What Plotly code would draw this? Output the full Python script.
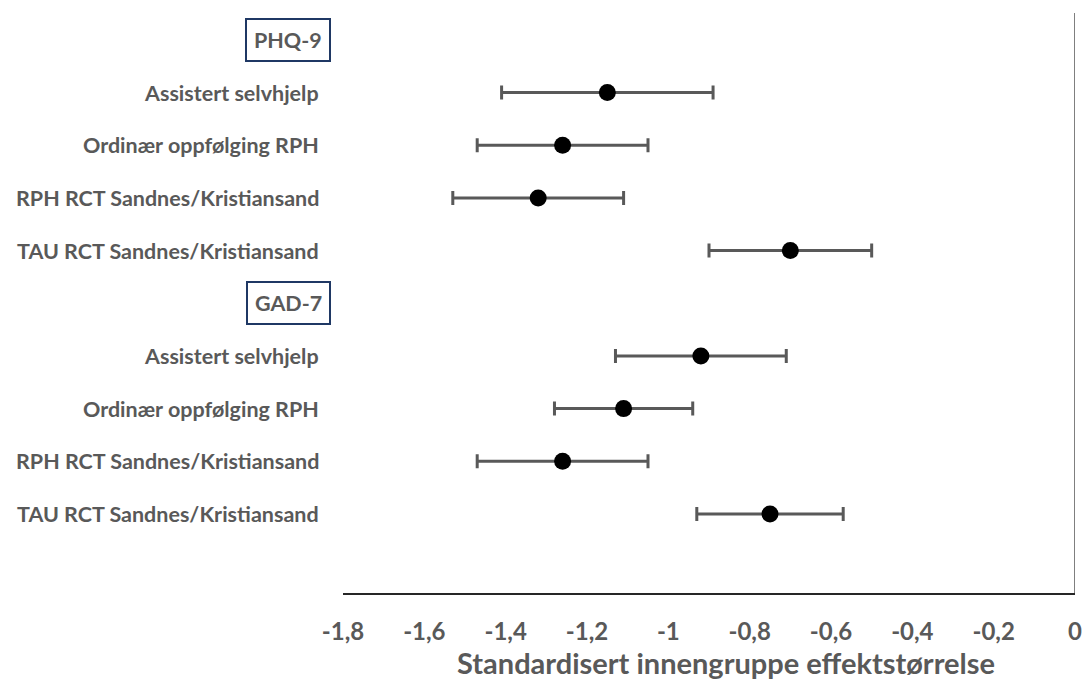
import plotly.graph_objects as go

# Data
groups = ["PHQ-9", "GAD-7"]
conditions = ["Assistert selvhjelp", "Ordinær oppfølging RPH",
              "RPH RCT Sandnes/Kristiansand", "TAU RCT Sandnes/Kristiansand"]
phq_est = [-1.15, -1.26, -1.32, -0.70]
phq_low = [-1.41, -1.47, -1.53, -0.90]
phq_high = [-0.89, -1.05, -1.11, -0.50]
gad_est = [-0.92, -1.11, -1.26, -0.75]
gad_low = [-1.13, -1.28, -1.47, -0.93]
gad_high = [-0.71, -0.94, -1.05, -0.57]
x_ticks = [-1.8, -1.6, -1.4, -1.2, -1.0, -0.8, -0.6, -0.4, -0.2, 0]
x_tick_labels = ["-1,8", "-1,6", "-1,4", "-1,2", "-1", "-0,8", "-0,6", "-0,4", "-0,2", "0"]
x_title = "Standardisert innengruppe effektstørrelse"

# rows: top header = 10, then down to 1
ests, lows, highs, ys, labels = [], [], [], [], []
headers = []
row = 10
for g, e, lo, hi in [("PHQ-9", phq_est, phq_low, phq_high), ("GAD-7", gad_est, gad_low, gad_high)]:
    headers.append((g, row))
    row -= 1
    for c, ee, l, h in zip(conditions, e, lo, hi):
        ests.append(ee); lows.append(l); highs.append(h); ys.append(row); labels.append(c)
        row -= 1

grey = "#595959"
font_fam = "Lato, 'Open Sans', sans-serif"

fig = go.Figure()
fig.add_trace(go.Scatter(
    x=ests, y=ys, mode="markers",
    marker=dict(color="black", size=17),
    error_x=dict(type="data", symmetric=False,
                 array=[h - e for h, e in zip(highs, ests)],
                 arrayminus=[e - l for e, l in zip(ests, lows)],
                 color=grey, thickness=3, width=7),
    showlegend=False, hoverinfo="x"
))

annotations = []
for lab, y in zip(labels, ys):
    annotations.append(dict(x=0, xref="paper", y=y, yref="y", text=lab,
                            xanchor="right", yanchor="middle", xshift=-22,
                            showarrow=False,
                            font=dict(family=font_fam, size=21.5, color=grey, weight="bold")))
for g, y in headers:
    annotations.append(dict(x=0, xref="paper", y=y, yref="y", text=g,
                            xanchor="right", yanchor="middle", xshift=-12,
                            showarrow=False, bordercolor="#1F3864", borderwidth=2,
                            borderpad=7, bgcolor="white",
                            font=dict(family=font_fam, size=21.5, color=grey, weight="bold")))
annotations.append(dict(x=0.5, xref="paper", y=0, yref="paper", text=x_title,
                        xanchor="center", yanchor="middle", xshift=17, yshift=-69,
                        showarrow=False,
                        font=dict(family=font_fam, size=29, color=grey, weight="bold")))

fig.add_shape(type="line", x0=0, x1=0, xref="x", y0=0, y1=1, yref="paper",
              line=dict(color="#7f7f7f", width=2))

fig.update_layout(
    width=1085, height=682,
    margin=dict(l=343, r=10, t=13, b=89),
    plot_bgcolor="white", paper_bgcolor="white",
    annotations=annotations,
    xaxis=dict(range=[-1.8, 0], tickvals=x_ticks, ticktext=x_tick_labels,
               showgrid=False, zeroline=False, showline=True, linecolor="#262626", linewidth=2,
               ticks="", ticklabelstandoff=16, automargin=False,
               tickfont=dict(family=font_fam, size=24, color=grey, weight="bold")),
    yaxis=dict(range=[-0.5, 10.51], showgrid=False, zeroline=False, showline=False,
               showticklabels=False, ticks="", automargin=False),
)

fig.write_html("out.html", config={"displayModeBar": False},
               post_script="document.body.style.margin='0';document.body.style.overflow='hidden';")
